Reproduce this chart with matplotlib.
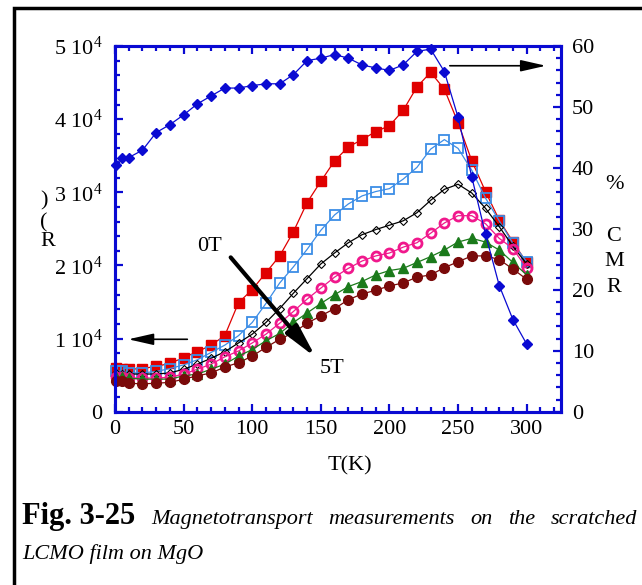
import matplotlib
matplotlib.use("Agg")
import matplotlib.pyplot as plt
from matplotlib.patches import Rectangle
from matplotlib.ticker import MultipleLocator, FuncFormatter

plt.rcParams['font.family'] = 'Liberation Serif'
plt.rcParams['mathtext.fontset'] = 'custom'
plt.rcParams['mathtext.rm'] = 'Liberation Serif'
plt.rcParams['mathtext.it'] = 'Liberation Serif:italic'

W, H = 642, 585
BLUE = '#0a0ad2'

temp = [1, 5, 10, 20, 30, 40, 50, 60, 70, 80, 90, 100, 110, 120, 130, 140, 150,
        160, 170, 180, 190, 200, 210, 220, 230, 240, 250, 260, 270, 280, 290, 300]

# resistance in kOhm, field increasing from 0T to 5T
r_0t = [6.0, 5.9, 5.8, 5.9, 6.2, 6.6, 7.4, 8.2, 9.1, 10.4, 14.9, 16.7, 19.0, 21.3, 24.6, 28.6,
        31.5, 34.3, 36.2, 37.2, 38.3, 39.1, 41.2, 44.4, 46.4, 44.1, 39.5, 34.3, 30.1, 26.2, 23.2, 20.4]
r_1t = [5.6, 5.5, 5.3, 5.3, 5.5, 5.9, 6.4, 7.1, 8.1, 9.1, 10.4, 12.2, 14.8, 17.6, 19.8, 22.2,
        24.8, 26.9, 28.4, 29.5, 30.1, 30.5, 31.8, 33.4, 35.9, 37.2, 36.0, 33.0, 29.2, 26.1, 23.0, 20.5]
r_2t = [5.3, 5.2, 5.15, 5.15, 5.15, 5.3, 5.8, 6.5, 7.3, 8.2, 9.4, 10.6, 12.2, 14.1, 16.2, 18.2,
        20.2, 21.7, 23.1, 24.2, 24.9, 25.5, 26.1, 27.2, 28.9, 30.4, 31.1, 29.9, 27.8, 25.3, 22.6, 20.2]
r_3t = [4.8, 4.75, 4.6, 4.6, 4.6, 4.7, 5.15, 5.8, 6.5, 7.5, 8.3, 9.4, 10.6, 12.1, 13.7, 15.4,
        16.9, 18.4, 19.6, 20.6, 21.3, 21.7, 22.5, 23.1, 24.4, 25.8, 26.8, 26.8, 25.7, 23.7, 22.3, 19.6]
r_4t = [4.8, 4.7, 4.6, 4.45, 4.45, 4.45, 4.9, 5.15, 5.8, 6.5, 7.6, 8.5, 9.7, 10.7, 12.2, 13.5,
        14.8, 16.0, 17.1, 17.8, 18.7, 19.3, 19.6, 20.4, 21.2, 22.1, 23.2, 23.7, 23.2, 22.1, 20.4, 18.7]
r_5t = [4.2, 4.15, 3.9, 3.8, 3.9, 4.0, 4.45, 4.9, 5.3, 6.1, 6.7, 7.6, 8.8, 9.9, 10.8, 12.1,
        13.1, 14.1, 15.3, 16.1, 16.6, 17.2, 17.6, 18.4, 18.7, 19.7, 20.5, 21.3, 21.3, 20.8, 19.5, 18.1]

# magnetoresistance ratio in percent
cmr = [40.5, 41.7, 41.7, 42.9, 45.8, 47.1, 48.7, 50.5, 51.8, 53.1, 53.1, 53.5, 53.8, 53.8, 55.3, 57.6,
       58.0, 58.6, 58.0, 56.9, 56.4, 56.0, 56.9, 59.1, 59.5, 55.8, 48.3, 38.5, 29.1, 20.7, 15.1, 11.1]

series = [
    (r_0t, dict(color='#e00000', marker='s', ms=6.5)),
    (r_1t, dict(color='#3c8de6', marker='s', ms=6.5, mfc='none', mew=1.3)),
    (r_2t, dict(color='black', marker='D', ms=4.5, mfc='none', mew=0.8)),
    (r_3t, dict(color='#f0188c', marker='o', ms=6.5, mfc='none', mew=2.0)),
    (r_4t, dict(color='#1b7a1b', marker='^', ms=6.5)),
    (r_5t, dict(color='#7a0a0a', marker='o', ms=7)),
]


def px(x, y):
    return x / W, 1 - y / H


def justified_line(x0, x1, y, pieces):
    # lay out (text, style) pieces on one baseline, stretching the gaps to fill x0..x1
    r = fig.canvas.get_renderer()
    widths = []
    for s, kw in pieces:
        t = fig.text(0, 0, s, **kw)
        widths.append(t.get_window_extent(r).width)
        t.remove()
    gap = (x1 - x0 - sum(widths)) / (len(pieces) - 1)
    cur = x0
    for (s, kw), w in zip(pieces, widths):
        fig.text(*px(cur, y), s, ha='left', va='baseline', **kw)
        cur += w + gap


fig = plt.figure(figsize=(W / 100, H / 100), dpi=100)
ax = fig.add_axes([115 / W, 1 - 411.7 / H, (561 - 115) / W, (411.7 - 46) / H])
ax2 = ax.twinx()

for vals, st in series:
    ax.plot(temp, [v * 1000 for v in vals], lw=0.9, clip_on=False, **st)

ax2.plot(temp, cmr, color=BLUE, marker='D', ms=5.5, lw=0.9, clip_on=False)

ax.set_xlim(0, 325)
ax.set_ylim(0, 50000)
ax2.set_ylim(0, 60)

ax.xaxis.set_major_locator(MultipleLocator(50))
ax.xaxis.set_minor_locator(MultipleLocator(10))
ax.yaxis.set_major_locator(MultipleLocator(10000))
ax.yaxis.set_minor_locator(MultipleLocator(2000))
ax2.yaxis.set_major_locator(MultipleLocator(10))
ax2.yaxis.set_minor_locator(MultipleLocator(2))
ax.yaxis.set_major_formatter(FuncFormatter(
    lambda v, p: '0' if v == 0 else '%d 10$^{4}$' % round(v / 1e4)))

for a in (ax, ax2):
    for s in a.spines.values():
        s.set_color(BLUE)
        s.set_linewidth(2.2)
    a.tick_params(which='both', direction='in', color=BLUE, width=1.6, labelsize=16)
    a.tick_params(which='major', length=6)
    a.tick_params(which='minor', length=3.6)
ax.tick_params(axis='x', which='both', top=True, pad=6)
ax.tick_params(axis='y', pad=9)
ax2.tick_params(axis='y', pad=8)

# field arrow and axis pointers
ax.annotate('', xy=(146.4, 7400), xytext=(84.3, 21100),
            arrowprops=dict(arrowstyle='-|>,head_length=1.0,head_width=0.22',
                            lw=3, color='black', mutation_scale=20, shrinkA=0, shrinkB=0))
ax.text(69.2, 22550, '0T', ha='center', va='center', fontsize=16)
ax.text(157.9, 5930, '5T', ha='center', va='center', fontsize=16)
ax.annotate('', xy=(9.7, 9900), xytext=(52.7, 9900),
            arrowprops=dict(arrowstyle='-|>,head_length=1.1,head_width=0.25',
                            lw=1.2, color='black', mutation_scale=14, shrinkA=0, shrinkB=0))
ax.annotate('', xy=(314, 47300), xytext=(244, 47300), annotation_clip=False,
            arrowprops=dict(arrowstyle='-|>,head_length=1.1,head_width=0.25',
                            lw=1.2, color='black', mutation_scale=14, shrinkA=0, shrinkB=0))

# stacked axis titles
for ch, yb in ((')', 205), ('(', 227), ('R', 246)):
    fig.text(*px(40, yb), ch, ha='left', va='baseline', fontsize=16)
for ch, yb in (('%', 189), ('C', 240.7), ('M', 266), ('R', 292)):
    fig.text(*px(614, yb), ch, ha='center', va='baseline', fontsize=16)
fig.text(*px(349.5, 470), 'T(K)', ha='center', va='baseline', fontsize=16)

# caption
bold = dict(fontsize=22, fontweight='bold')
ital = dict(fontsize=16, fontstyle='italic')
words = ['Magnetotransport', 'measurements', 'on', 'the', 'scratched']
justified_line(22, 637, 524, [('Fig. 3-25', bold)] + [(w, ital) for w in words])
fig.text(*px(22, 559), 'LCMO film on MgO', ha='left', va='baseline', **ital)

# page frame, open on the right and bottom
fig.patches.append(Rectangle((13.5 / W, -0.2), 1.2, 1.2 - 8 / H,
                             transform=fig.transFigure, fill=False, lw=2.5, ec='black'))

fig.savefig('out.png', dpi=100)
